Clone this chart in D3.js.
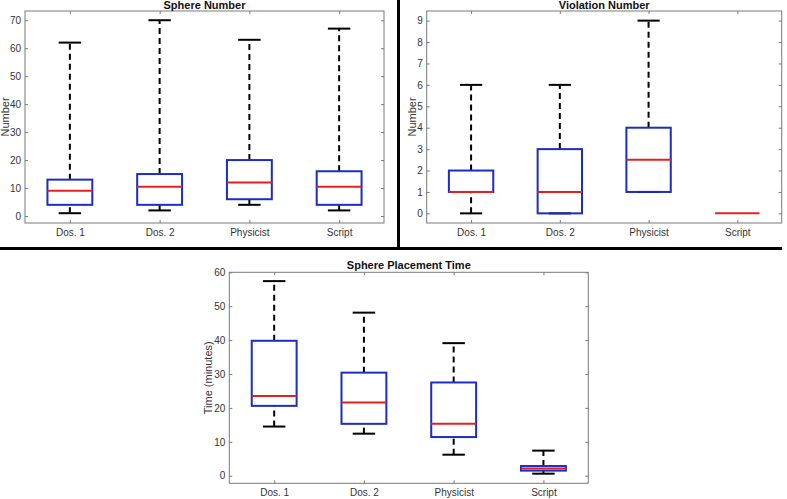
<!DOCTYPE html>
<html>
<head>
<meta charset="utf-8">
<script src="https://cdn.jsdelivr.net/npm/d3@7"></script>
<style>
  html, body { margin: 0; padding: 0; background: #fff; }
  svg { display: block; }
  .tick text { font-family: "Liberation Sans", Arial, sans-serif; font-size: 10px; fill: #333; }
</style>
</head>
<body>
<svg id="chart" width="787" height="499"></svg>
<script>
// ---- Data (five-number summaries: [whiskerLow, q1, median, q3, whiskerHigh]) ----
const categories = ["Dos. 1", "Dos. 2", "Physicist", "Script"];

const sphereNumberStats = [
  [1, 4, 9, 13, 62],
  [2, 4, 10.5, 15, 70],
  [4, 6, 12, 20, 63],
  [2, 4, 10.5, 16, 67]
];
const violationNumberStats = [
  [0, 1, 1, 2, 6],
  [0, 0, 1, 3, 6],
  [1, 1, 2.5, 4, 9],
  [0, 0, 0, 0, 0]
];
const placementTimeStats = [
  [14.5, 20.6, 23.5, 39.8, 57.4],
  [12.4, 15.3, 21.6, 30.4, 48.1],
  [6.2, 11.4, 15.3, 27.5, 39.1],
  [0.6, 1.5, 2.1, 2.85, 7.4]
];

const sphereTicks = [0, 10, 20, 30, 40, 50, 60, 70];
const violationTicks = [0, 1, 2, 3, 4, 5, 6, 7, 8, 9];
const timeTicks = [0, 10, 20, 30, 40, 50, 60];

const panels = [
  { title: "Sphere Number", ylabel: "Number", stats: sphereNumberStats, ticks: sphereTicks,
    yDomain: [-2.5, 73.3], left: 25, right: 384, top: 11, bottom: 223, titleY: 8.5, ylabelX: 5 },
  { title: "Violation Number", ylabel: "Number", stats: violationNumberStats, ticks: violationTicks,
    yDomain: [-0.45, 9.45], left: 426.7, right: 781.7, top: 11, bottom: 223, titleY: 8.5, ylabelX: 412 },
  { title: "Sphere Placement Time", ylabel: "Time (minutes)", stats: placementTimeStats, ticks: timeTicks,
    yDomain: [-2.24, 60], left: 229.3, right: 588.3, top: 272.3, bottom: 483.3, titleY: 268.5, ylabelX: 208 }
];

const COLORS = { box: "#1c2dbf", median: "#e3201f", whisker: "#000", axis: "#7a7a7a", text: "#333" };

const svg = d3.select("#chart");
svg.append("rect").attr("width", 787).attr("height", 499).attr("fill", "#fff");

panels.forEach(p => {
  const x = d3.scaleLinear().domain([0.5, categories.length + 0.5]).range([p.left, p.right]);
  const y = d3.scaleLinear().domain(p.yDomain).range([p.bottom, p.top]);
  const g = svg.append("g");

  const axisStyle = sel => {
    sel.select(".domain").remove();
    sel.selectAll(".tick line").attr("stroke", COLORS.axis);
  };
  g.append("g").attr("transform", `translate(${p.left},0)`)
    .call(d3.axisLeft(y).tickValues(p.ticks).tickSize(-3).tickPadding(4).tickFormat(d3.format("d")))
    .call(axisStyle);
  g.append("g").attr("transform", `translate(${p.right},0)`)
    .call(d3.axisRight(y).tickValues(p.ticks).tickSize(-3).tickFormat(""))
    .call(axisStyle);
  g.append("g").attr("transform", `translate(0,${p.bottom})`)
    .call(d3.axisBottom(x).tickValues(d3.range(1, categories.length + 1)).tickSize(-3).tickPadding(6)
      .tickFormat(d => categories[d - 1]))
    .call(axisStyle);
  g.append("g").attr("transform", `translate(0,${p.top})`)
    .call(d3.axisTop(x).tickValues(d3.range(1, categories.length + 1)).tickSize(-3).tickFormat(""))
    .call(axisStyle);
  g.selectAll(".tick text").attr("fill", COLORS.text);

  g.append("rect")
    .attr("x", p.left).attr("y", p.top)
    .attr("width", p.right - p.left).attr("height", p.bottom - p.top)
    .attr("fill", "none").attr("stroke", COLORS.axis).attr("stroke-width", 1);

  const boxes = g.selectAll("g.box").data(p.stats).join("g").attr("class", "box");
  const hw = (x(1.25) - x(1));
  const cw = (x(1.125) - x(1));
  boxes.each(function(s, i) {
    const b = d3.select(this);
    const cx = x(i + 1);
    const [lo, q1, med, q3, hi] = s;
    [[q3, hi], [lo, q1]].forEach(([a, c]) => {
      if (c !== a) {
        b.append("line").attr("x1", cx).attr("x2", cx).attr("y1", y(a)).attr("y2", y(c))
          .attr("stroke", COLORS.whisker).attr("stroke-width", 2).attr("stroke-dasharray", "6,4");
      }
    });
    [lo, hi].forEach(v => {
      if (v === med && q1 === q3) return; // fully hidden under the median line
      b.append("line").attr("x1", cx - cw).attr("x2", cx + cw).attr("y1", y(v)).attr("y2", y(v))
        .attr("stroke", COLORS.whisker).attr("stroke-width", 2);
    });
    if (q3 > q1) {
      b.append("rect").attr("x", cx - hw).attr("width", 2 * hw)
        .attr("y", y(q3)).attr("height", y(q1) - y(q3))
        .attr("fill", "none").attr("stroke", COLORS.box).attr("stroke-width", 2);
    }
    b.append("line").attr("x1", cx - hw).attr("x2", cx + hw).attr("y1", y(med)).attr("y2", y(med))
      .attr("stroke", COLORS.median).attr("stroke-width", 2);
  });

  g.append("text").attr("x", (p.left + p.right) / 2).attr("y", p.titleY)
    .attr("text-anchor", "middle")
    .attr("font-family", "'Liberation Sans', Arial, sans-serif").attr("font-size", 11).attr("font-weight", "bold")
    .attr("fill", "#111").text(p.title);
  const cy = (p.top + p.bottom) / 2;
  g.append("text").attr("transform", `translate(${p.ylabelX},${cy}) rotate(-90)`)
    .attr("text-anchor", "middle").attr("dominant-baseline", "central")
    .attr("font-family", "'Liberation Sans', Arial, sans-serif").attr("font-size", 11)
    .attr("fill", COLORS.text).text(p.ylabel);
});

svg.append("line").attr("x1", 0).attr("x2", 782).attr("y1", 248.5).attr("y2", 248.5)
  .attr("stroke", "#000").attr("stroke-width", 3);
svg.append("line").attr("x1", 398.5).attr("x2", 398.5).attr("y1", 0).attr("y2", 248.5)
  .attr("stroke", "#000").attr("stroke-width", 3);
</script>
</body>
</html>
